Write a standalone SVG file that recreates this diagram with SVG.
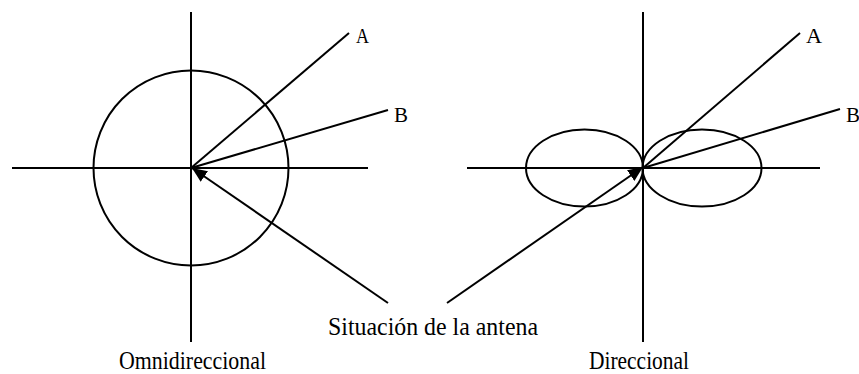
<svg xmlns="http://www.w3.org/2000/svg" width="859" height="374" viewBox="0 0 859 374">
  <style>
    .ln { stroke: #000; stroke-width: 2; fill: none; }
    .shape { stroke: #000; stroke-width: 2; fill: none; }
    .lbl { font-family: "Liberation Serif", "Times New Roman", serif; font-size: 25px; fill: #000; }
    .ltr { font-family: "Liberation Serif", "Times New Roman", serif; font-size: 22px; fill: #000; }
  </style>
  <defs>
    <marker id="arrow" markerUnits="userSpaceOnUse" markerWidth="16" markerHeight="14" refX="15" refY="6.5" orient="auto">
      <path d="M0,0 L15,6.5 L0,13 Z" fill="#000"/>
    </marker>
  </defs>
  <rect width="859" height="374" fill="#fff"/>

  <g id="omni">
    <line class="ln" x1="191" y1="12" x2="191" y2="342"/>
    <line class="ln" x1="12" y1="168" x2="368" y2="168"/>
    <circle class="shape" cx="191" cy="168" r="97.5"/>
    <text class="lbl" x="119" y="369" textLength="147" lengthAdjust="spacingAndGlyphs">Omnidireccional</text>
  </g>

  <g id="direc">
    <line class="ln" x1="643" y1="12" x2="643" y2="342"/>
    <line class="ln" x1="467" y1="168" x2="820" y2="168"/>
    <ellipse class="shape" cx="584.5" cy="168" rx="58.5" ry="38.5"/>
    <ellipse class="shape" cx="702" cy="168" rx="59.5" ry="38.5"/>
    <text class="lbl" x="589" y="369" textLength="100" lengthAdjust="spacingAndGlyphs">Direccional</text>
  </g>

  <g id="connectors">
    <line class="ln" x1="191" y1="168" x2="349" y2="33"/>
    <line class="ln" x1="191" y1="168" x2="388" y2="110"/>
    <line class="ln" x1="643" y1="168" x2="800" y2="33"/>
    <line class="ln" x1="643" y1="168" x2="840" y2="109"/>
    <line class="ln" x1="388" y1="303" x2="192" y2="168" marker-end="url(#arrow)"/>
    <line class="ln" x1="447" y1="303" x2="643" y2="167" marker-end="url(#arrow)"/>
  </g>

  <g id="labels">
    <text class="ltr" x="356" y="43" textLength="13" lengthAdjust="spacingAndGlyphs">A</text>
    <text class="ltr" x="394" y="122" textLength="14" lengthAdjust="spacingAndGlyphs">B</text>
    <text class="ltr" x="806" y="43" textLength="16" lengthAdjust="spacingAndGlyphs">A</text>
    <text class="ltr" x="846" y="122" textLength="14" lengthAdjust="spacingAndGlyphs">B</text>
  </g>

  <g id="antena">
    <text class="lbl" x="328" y="335" textLength="210" lengthAdjust="spacingAndGlyphs">Situación de la antena</text>
  </g>
</svg>
